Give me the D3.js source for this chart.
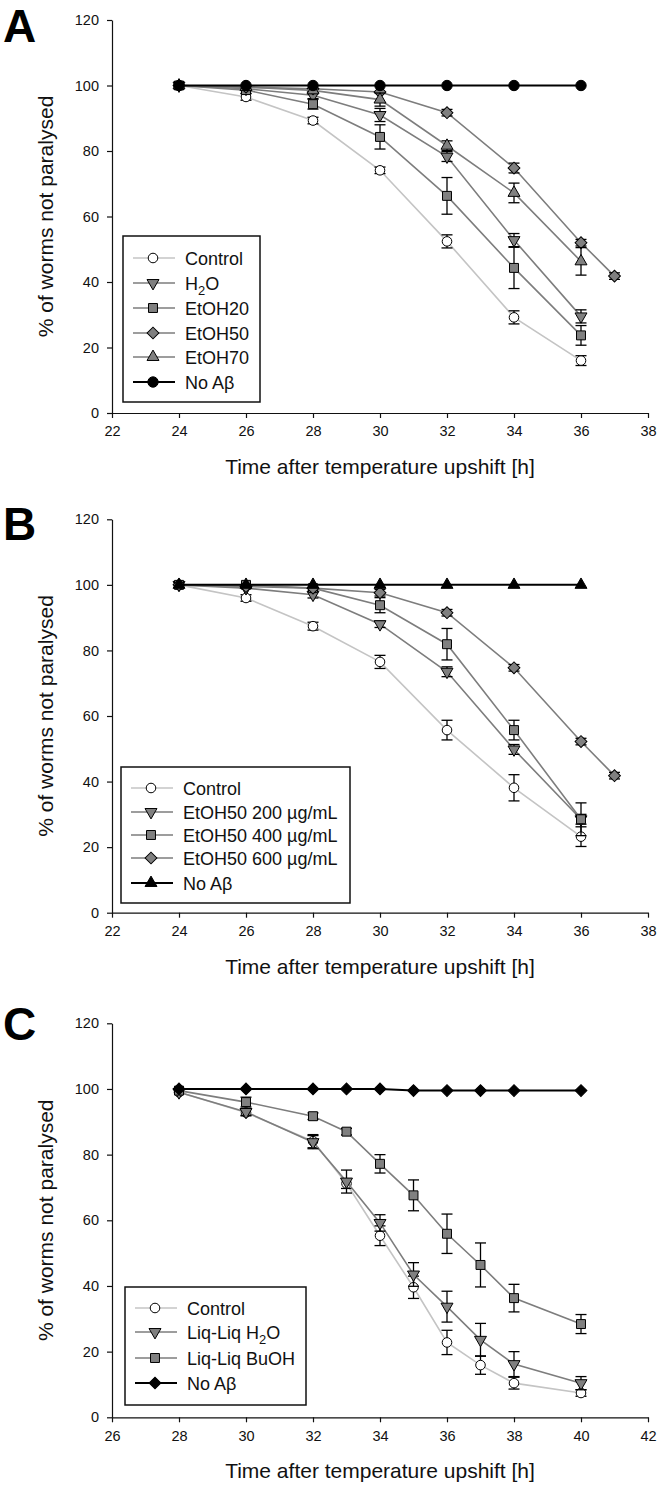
<!DOCTYPE html>
<html>
<head>
<meta charset="utf-8">
<script src="https://cdn.jsdelivr.net/npm/d3@7"></script>
<style>
  body { margin: 0; background: #fff; }
  svg { display: block; font-family: "Liberation Sans", Arial, sans-serif; }
</style>
</head>
<body>
<div id="chart"></div>
<script>
// ---- data: panel A ----
var timeA = [24, 26, 28, 30, 32, 34, 36];
var timeA37 = [24, 26, 28, 30, 32, 34, 36, 37];
var controlA = [100, 96.5, 89.3, 74.1, 52.4, 29.2, 16.0];
var controlAErr = [0.5, 1, 1, 1, 2, 2, 1.5];
var h2oA = [100, 99, 97, 91, 78.3, 52.8, 29.5];
var h2oAErr = [0.3, 0.5, 1, 2, 1.5, 2, 2];
var etoh20A = [100, 98.6, 94.3, 84.3, 66.3, 44.3, 23.7];
var etoh20AErr = [0.3, 1, 1.5, 3.7, 5.6, 6.3, 3];
var etoh50A = [100, 99.5, 99, 98, 91.7, 74.8, 52, 41.8];
var etoh50AErr = [0.3, 0.5, 0.5, 0.5, 1, 1.5, 1, 1];
var etoh70A = [100, 99.5, 98.5, 95.7, 81.6, 67.2, 46.3];
var etoh70AErr = [0.3, 0.5, 0.8, 2, 1.5, 3, 4.2];
var noAbA = [100, 100, 100, 100, 100, 100, 100];

// ---- data: panel B ----
var timeB = [24, 26, 28, 30, 32, 34, 36];
var timeB37 = [24, 26, 28, 30, 32, 34, 36, 37];
var controlB = [100, 96, 87.4, 76.5, 55.7, 38.1, 23.2];
var controlBErr = [0.5, 1, 1.2, 2, 3, 4, 3];
var e200B = [100, 99, 97, 88, 73.5, 49.8, 28.5];
var e200BErr = [0.3, 0.5, 1, 1, 1.5, 1.5, 1.5];
var e400B = [100, 100, 99, 93.8, 81.9, 55.7, 28.5];
var e400BErr = [0.3, 0.5, 0.5, 2.3, 4.8, 3, 5];
var e600B = [100, 99.5, 99, 97.6, 91.5, 74.7, 52.2, 41.8];
var e600BErr = [0.3, 0.5, 0.5, 1, 1, 1, 1, 1];
var noAbB = [100, 100, 100, 100, 100, 100, 100];

// ---- data: panel C ----
var timeC = [28, 30, 32, 33, 34, 35, 36, 37, 38, 40];
var controlC = [99, 92.8, 84.1, 71.2, 55.3, 39.6, 22.8, 15.9, 10.4, 7.4];
var controlCErr = [0.5, 1, 2, 1.5, 3, 3.4, 3.7, 2.8, 1.8, 1];
var liqH2OC = [99, 93, 83.8, 71.8, 59.2, 43.5, 33.7, 23.6, 16.2, 10.4];
var liqH2OCErr = [0.5, 1, 2, 3.5, 2.5, 3.6, 4.7, 5, 3.8, 2];
var liqBuOHC = [99.5, 96, 91.7, 87, 77.2, 67.6, 55.9, 46.4, 36.3, 28.4];
var liqBuOHCErr = [0.5, 1.5, 1, 1, 2.8, 4.7, 6, 6.7, 4.2, 2.9];
var noAbC = [100, 100, 100, 100, 100, 99.5, 99.5, 99.5, 99.5, 99.5];

var yTicks = [0, 20, 40, 60, 80, 100, 120];
var xTicksAB = [22, 24, 26, 28, 30, 32, 34, 36, 38];
var xTicksC = [26, 28, 30, 32, 34, 36, 38, 40, 42];

var LIGHT = '#c4c4c4', MID = '#7d7d7d', FILL = '#808080';

var W = 668, H = 1485;
var svg = d3.select('#chart').append('svg')
	.attr('width', W)
	.attr('height', H);
svg.append('rect').attr('width', W).attr('height', H).attr('fill', '#fff');

//marker path helper
function markerPath(shape) {
	var sym = d3.symbol();
	if (shape === 'circle') return sym.type(d3.symbolCircle).size(72)();
	if (shape === 'square') return sym.type(d3.symbolSquare).size(80)();
	if (shape === 'diamond' || shape === 'blackDiamond') return sym.type(d3.symbolSquare).size(70)();
	if (shape === 'triUp' || shape === 'triDown') return sym.type(d3.symbolTriangle).size(62)();
	return sym.type(d3.symbolCircle).size(85)();
}
function markerRot(shape) {
	if (shape === 'triDown') return ' rotate(180)';
	if (shape === 'diamond' || shape === 'blackDiamond') return ' rotate(45)';
	return '';
}

function label(sel, parts, size) {
	//parts: array of [text, isSub]
	parts.forEach(function (p) {
		var t = sel.append('tspan').text(p[0]);
		if (p[1]) t.attr('font-size', size * 0.72).attr('dy', 5);
		else if (sel.selectAll('tspan').size() > 1) t.attr('dy', -5);
	});
}

function drawPanel(p) {
	var x = d3.scaleLinear().domain(p.xDomain).range([112, 648]);
	var y = d3.scaleLinear().domain([0, 120]).range([p.y0, p.y120]);
	var g = svg.append('g');

	// panel letter
	g.append('text')
		.attr('x', 3).attr('y', p.letterY)
		.attr('font-size', 46).attr('font-weight', 'bold')
		.text(p.letter);

	// axes
	var xa = g.append('g').attr('transform', 'translate(0,' + p.y0 + ')')
		.call(d3.axisBottom(x).tickValues(p.xTicks).tickSize(5).tickPadding(8).tickSizeOuter(0));
	var ya = g.append('g').attr('transform', 'translate(112,0)')
		.call(d3.axisLeft(y).tickValues(yTicks).tickSize(5).tickPadding(8).tickSizeOuter(0));
	[xa, ya].forEach(function (a) {
		a.selectAll('text').attr('font-size', 14.5).attr('fill', '#111').attr('font-family', null);
		a.selectAll('line, path').attr('stroke', '#111').attr('stroke-width', 1.2);
	});

	g.append('text')
		.attr('x', 380).attr('y', p.y0 + 61)
		.attr('text-anchor', 'middle').attr('font-size', 21).attr('fill', '#111')
		.text('Time after temperature upshift [h]');
	g.append('text')
		.attr('transform', 'translate(53,' + ((p.y0 + p.y120) / 2) + ') rotate(-90)')
		.attr('text-anchor', 'middle').attr('font-size', 21).attr('fill', '#111')
		.text('% of worms not paralysed');

	var line = d3.line()
		.x(function (d) { return x(d.t); })
		.y(function (d) { return y(d.v); });

	p.series.forEach(function (s) {
		var pts = s.values.map(function (v, i) {
			return { t: s.time[i], v: v, e: s.err ? s.err[i] : 0 };
		});
		var sg = g.append('g');
		sg.append('path')
			.datum(pts)
			.attr('d', line)
			.attr('fill', 'none')
			.attr('stroke', s.line)
			.attr('stroke-width', s.line === '#000' ? 2 : 1.6);

		//error bars
		var eb = sg.selectAll('g.err')
			.data(pts.filter(function (d) { return d.e > 0.8; }))
			.enter().append('g')
			.attr('stroke', '#000').attr('stroke-width', 1.3);
		eb.append('line')
			.attr('x1', function (d) { return x(d.t); })
			.attr('x2', function (d) { return x(d.t); })
			.attr('y1', function (d) { return y(d.v - d.e); })
			.attr('y2', function (d) { return y(d.v + d.e); });
		[-1, 1].forEach(function (sgn) {
			eb.append('line')
				.attr('x1', function (d) { return x(d.t) - 5.5; })
				.attr('x2', function (d) { return x(d.t) + 5.5; })
				.attr('y1', function (d) { return y(d.v + sgn * d.e); })
				.attr('y2', function (d) { return y(d.v + sgn * d.e); });
		});

		sg.selectAll('path.mk')
			.data(pts)
			.enter().append('path')
			.attr('class', 'mk')
			.attr('d', markerPath(s.shape))
			.attr('transform', function (d) {
				return 'translate(' + x(d.t) + ',' + y(d.v) + ')' + markerRot(s.shape);
			})
			.attr('fill', s.fill)
			.attr('stroke', '#000')
			.attr('stroke-width', 1);
	});

	// legend
	var L = p.legend;
	g.append('rect')
		.attr('x', L.x0).attr('y', L.y0)
		.attr('width', L.x1 - L.x0).attr('height', L.y1 - L.y0)
		.attr('fill', '#fff').attr('stroke', '#111').attr('stroke-width', 1.5);
	p.series.forEach(function (s, i) {
		var cy = L.rows[i];
		g.append('line')
			.attr('x1', L.x0 + 10).attr('x2', L.x0 + 52)
			.attr('y1', cy).attr('y2', cy)
			.attr('stroke', s.line).attr('stroke-width', s.line === '#000' ? 2 : 1.6);
		g.append('path')
			.attr('d', markerPath(s.shape))
			.attr('transform', 'translate(' + (L.x0 + 30) + ',' + cy + ')' + markerRot(s.shape))
			.attr('fill', s.fill).attr('stroke', '#000').attr('stroke-width', 1);
		var t = g.append('text')
			.attr('x', L.x0 + 62).attr('y', cy + 6.5)
			.attr('font-size', 18).attr('fill', '#111');
		label(t, s.label, 18);
	});
}

drawPanel({
	letter: 'A', letterY: 42,
	xDomain: [22, 38], xTicks: xTicksAB, y0: 413, y120: 20,
	legend: { x0: 123, x1: 260, y0: 236, y1: 402, rows: [258, 283, 308, 333, 357, 382] },
	series: [
		{ label: [['Control']], time: timeA, values: controlA, err: controlAErr, shape: 'circle', fill: '#fff', line: LIGHT },
		{ label: [['H'], ['2', true], ['O']], time: timeA, values: h2oA, err: h2oAErr, shape: 'triDown', fill: FILL, line: MID },
		{ label: [['EtOH20']], time: timeA, values: etoh20A, err: etoh20AErr, shape: 'square', fill: FILL, line: MID },
		{ label: [['EtOH50']], time: timeA37, values: etoh50A, err: etoh50AErr, shape: 'diamond', fill: FILL, line: MID },
		{ label: [['EtOH70']], time: timeA, values: etoh70A, err: etoh70AErr, shape: 'triUp', fill: FILL, line: MID },
		{ label: [['No Aβ']], time: timeA, values: noAbA, err: null, shape: 'bigCircle', fill: '#000', line: '#000' }
	]
});

drawPanel({
	letter: 'B', letterY: 540,
	xDomain: [22, 38], xTicks: xTicksAB, y0: 912.7, y120: 519.3,
	legend: { x0: 121, x1: 350, y0: 767, y1: 903, rows: [788, 812, 835, 858, 883] },
	series: [
		{ label: [['Control']], time: timeB, values: controlB, err: controlBErr, shape: 'circle', fill: '#fff', line: LIGHT },
		{ label: [['EtOH50 200 µg/mL']], time: timeB, values: e200B, err: e200BErr, shape: 'triDown', fill: FILL, line: MID },
		{ label: [['EtOH50 400 µg/mL']], time: timeB, values: e400B, err: e400BErr, shape: 'square', fill: FILL, line: MID },
		{ label: [['EtOH50 600 µg/mL']], time: timeB37, values: e600B, err: e600BErr, shape: 'diamond', fill: FILL, line: MID },
		{ label: [['No Aβ']], time: timeB, values: noAbB, err: null, shape: 'triUp', fill: '#000', line: '#000' }
	]
});

drawPanel({
	letter: 'C', letterY: 1040,
	xDomain: [26, 42], xTicks: xTicksC, y0: 1417.3, y120: 1023.3,
	legend: { x0: 125, x1: 306, y0: 1287, y1: 1405, rows: [1308, 1332, 1358, 1383] },
	series: [
		{ label: [['Control']], time: timeC, values: controlC, err: controlCErr, shape: 'circle', fill: '#fff', line: LIGHT },
		{ label: [['Liq-Liq H'], ['2', true], ['O']], time: timeC, values: liqH2OC, err: liqH2OCErr, shape: 'triDown', fill: FILL, line: MID },
		{ label: [['Liq-Liq BuOH']], time: timeC, values: liqBuOHC, err: liqBuOHCErr, shape: 'square', fill: FILL, line: MID },
		{ label: [['No Aβ']], time: timeC, values: noAbC, err: null, shape: 'blackDiamond', fill: '#000', line: '#000' }
	]
});
</script>
</body>
</html>
